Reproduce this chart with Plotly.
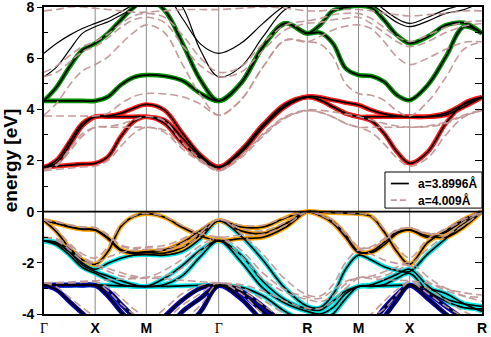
import plotly.graph_objects as go

# k-path: Γ-X-M-Γ-R-M-X-R (units of pi/a), sampled at quarter points of each leg
K_GRID = [0.0, 0.25, 0.5, 0.75, 1.0,
          1.25, 1.5, 1.75, 2.0,
          2.354, 2.707, 3.061, 3.414,
          3.847, 4.280, 4.713, 5.146,
          5.396, 5.646, 5.896, 6.146,
          6.396, 6.646, 6.896, 7.146,
          7.500, 7.853, 8.207, 8.560]
K_TICKS = [0.0, 1.0, 2.0, 3.414, 5.146, 6.146, 7.146, 8.560]
K_LABELS = ["Γ", "X", "M", "Γ", "R", "M", "X", "R"]
Y_TICKS = [8, 6, 4, 2, 0, -2, -4]

# ---- a = 3.8996 Å (solid) ----
# conduction t2g (red)
T2G_1 = [1.73, 1.78, 1.82, 1.86, 1.89, 2.15, 2.93, 3.52, 3.71, 3.45, 2.67, 2.08, 1.73,
         2.30, 3.30, 4.10, 4.48, 4.36, 4.10, 3.84, 3.71, 3.55, 3.06, 2.34, 1.89, 2.34, 3.45, 4.23, 4.47]
T2G_2 = [1.73, 2.02, 2.73, 3.45, 3.71, 3.71, 3.71, 3.71, 3.71, 3.58, 2.87, 2.15, 1.73,
         2.35, 3.35, 4.15, 4.48, 4.36, 4.10, 3.84, 3.71, 3.71, 3.71, 3.71, 3.71, 3.71, 3.78, 4.10, 4.47]
T2G_3 = [1.75, 1.90, 2.60, 3.35, 3.71, 3.74, 3.84, 4.04, 4.19, 3.97, 3.06, 2.21, 1.75,
         2.40, 3.40, 4.20, 4.50, 4.47, 4.36, 4.26, 4.17, 3.97, 3.82, 3.74, 3.71, 3.72, 3.85, 4.20, 4.47]
# conduction eg (green)
EG_1 = [4.33, 4.33, 4.33, 4.33, 4.33, 4.49, 4.95, 5.25, 5.34, 5.30, 5.12, 4.62, 4.33,
        5.02, 6.45, 7.36, 6.97, 7.00, 6.58, 5.60, 5.34, 5.30, 5.08, 4.56, 4.36, 4.95, 6.05, 7.23, 6.97]
EG_2 = [4.33, 4.88, 5.66, 6.32, 6.58, 6.97, 7.49, 7.98, 8.30, 7.88, 6.58, 5.14, 4.33,
        5.02, 6.45, 7.36, 6.97, 7.30, 7.85, 7.98, 8.05, 7.97, 7.49, 6.90, 6.58, 6.84, 7.29, 7.38, 6.97]
# higher conduction (black)
HI_1 = [6.19, 6.58, 6.90, 7.16, 7.36, 7.55, 7.81, 8.10, 8.40, 8.50, 7.55, 6.55, 6.19,
        6.58, 7.36, 8.05, 8.30, 8.40, 8.50, 8.50, 8.50, 8.30, 7.90, 7.55, 7.36, 7.60, 7.90, 8.10, 8.30]
HI_2 = [5.27, 5.66, 6.32, 6.97, 7.23, 7.42, 7.68, 7.95, 8.30, 8.80, 8.00, 6.30, 5.27,
        5.66, 6.84, 7.90, 8.20, 8.30, 8.40, 8.40, 8.30, 8.10, 7.75, 7.40, 7.23, 7.45, 7.75, 7.90, 8.20]
# valence, top group (orange)
VB_1 = [-0.35, -0.45, -0.58, -0.68, -0.71, -1.02, -1.48, -1.60, -1.56, -1.50, -1.20, -0.75, -0.35,
        -0.60, -0.60, -0.25, 0.00, -0.13, -0.39, -0.91, -1.56, -1.60, -1.30, -0.85, -0.71, -1.00, -0.80, -0.35, 0.00]
VB_2 = [-0.35, -0.46, -0.60, -0.69, -0.72, -1.06, -1.52, -1.64, -1.60, -1.62, -1.40, -0.90, -0.35,
        -0.75, -0.85, -0.48, 0.00, -0.15, -0.45, -1.00, -1.60, -1.55, -1.20, -0.80, -0.72, -0.95, -1.00, -0.60, 0.00]
VB_3 = [-0.35, -0.80, -1.42, -1.88, -2.06, -1.56, -0.59, -0.19, -0.08, -0.22, -0.62, -0.95, -1.13,
        -1.05, -1.00, -0.62, 0.00, -0.02, -0.04, -0.06, -0.08, -0.19, -0.78, -1.56, -2.06, -1.20, -0.75, -0.30, 0.00]
# valence, middle group (cyan)
VB_4 = [-1.14, -1.20, -1.50, -2.00, -2.25, -2.02, -1.82, -1.70, -1.68, -1.70, -1.55, -1.05, -0.35,
        -0.95, -1.90, -3.00, -3.70, -3.75, -3.25, -2.25, -1.70, -1.89, -2.15, -2.30, -2.34, -1.65, -1.05, -0.45, 0.00]
VB_5 = [-1.14, -1.24, -1.58, -2.08, -2.34, -2.52, -2.70, -2.85, -2.92, -2.60, -2.10, -1.50, -1.13,
        -1.69, -2.73, -3.45, -3.80, -3.85, -3.50, -3.10, -2.93, -2.86, -2.67, -2.45, -2.25, -2.90, -3.40, -3.60, -3.70]
VB_6 = [-1.14, -1.30, -1.70, -2.18, -2.41, -2.65, -2.85, -2.92, -2.93, -2.85, -2.50, -1.75, -1.13,
        -1.95, -2.99, -3.58, -3.90, -4.00, -3.75, -3.20, -2.92, -2.92, -2.85, -2.60, -2.41, -3.10, -3.50, -3.75, -3.80]
VB_7 = [-2.87, -2.87, -2.87, -2.87, -2.86, -2.88, -2.90, -2.91, -2.92, -2.92, -2.90, -2.88, -2.87,
        -2.95, -3.30, -3.90, -4.30, -4.30, -4.00, -3.40, -2.92, -2.91, -2.90, -2.88, -2.86, -3.00, -3.20, -3.60, -3.90]
# valence, lower group (blue)
VB_8 = [-2.87, -2.87, -2.87, -2.87, -2.88, -3.30, -3.90, -4.40, -4.80, -4.10, -3.45, -2.99, -2.87,
        -3.10, -3.70, -4.40, -4.80, -4.80, -4.80, -4.80, -4.80, -4.40, -3.77, -3.25, -2.88, -3.40, -4.00, -4.50, -4.80]
VB_9 = [-2.87, -2.87, -2.87, -2.87, -2.88, -3.10, -3.60, -4.10, -4.50, -4.60, -3.90, -3.38, -2.87,
        -3.20, -3.90, -4.60, -5.00, -5.00, -5.00, -4.80, -4.50, -4.50, -4.10, -3.45, -2.88, -3.20, -3.70, -4.20, -4.60]
VB_10 = [-2.87, -3.06, -3.52, -3.97, -4.40, -4.60, -4.80, -5.00, -5.00, -5.00, -4.60, -3.90, -2.90,
         -3.40, -4.30, -5.00, -5.20, -5.20, -5.20, -5.00, -5.00, -5.00, -5.00, -4.80, -4.60, -4.80, -5.00, -5.00, -5.20]

# ---- a = 4.009 Å (dashed) ----
D_T2G_1 = [1.60, 1.65, 1.70, 1.75, 1.78, 2.00, 2.55, 3.05, 3.30, 3.10, 2.45, 1.95, 1.60,
           2.10, 2.95, 3.65, 3.95, 3.88, 3.70, 3.45, 3.30, 3.10, 2.65, 2.10, 1.78, 2.10, 3.00, 3.70, 3.95]
D_T2G_2 = [1.60, 1.85, 2.45, 3.05, 3.30, 3.30, 3.30, 3.30, 3.30, 3.18, 2.55, 2.00, 1.60,
           2.15, 3.00, 3.68, 3.95, 3.88, 3.70, 3.45, 3.30, 3.30, 3.30, 3.30, 3.30, 3.32, 3.45, 3.75, 3.95]
D_T2G_3 = [1.65, 1.80, 2.35, 2.95, 3.30, 3.33, 3.42, 3.58, 3.72, 3.55, 2.70, 2.05, 1.65,
           2.20, 3.05, 3.72, 3.98, 3.96, 3.90, 3.82, 3.72, 3.58, 3.45, 3.35, 3.30, 3.35, 3.50, 3.78, 3.98]
D_EG_1 = [3.74, 3.74, 3.74, 3.74, 3.74, 3.85, 4.22, 4.50, 4.62, 4.60, 4.49, 4.20, 3.77,
          4.36, 5.66, 6.70, 6.64, 6.55, 6.05, 5.00, 4.62, 4.55, 4.35, 3.95, 3.74, 4.30, 5.25, 6.35, 6.64]
D_EG_2 = [3.77, 4.25, 4.95, 5.50, 5.75, 6.05, 6.55, 7.00, 7.30, 7.00, 5.75, 4.55, 3.77,
          4.36, 5.66, 6.70, 6.64, 6.85, 7.10, 7.25, 7.30, 7.15, 6.65, 6.05, 5.75, 6.00, 6.35, 6.62, 6.64]
D_HI_1 = [5.45, 5.70, 6.10, 6.45, 6.65, 6.95, 7.35, 7.65, 7.75, 7.60, 6.90, 6.00, 5.45,
          5.66, 6.58, 7.29, 7.46, 7.55, 7.70, 7.75, 7.75, 7.55, 7.20, 6.85, 6.65, 6.90, 7.20, 7.40, 7.46]
D_HI_2 = [5.28, 5.45, 5.85, 6.25, 6.45, 6.80, 7.20, 7.50, 7.60, 7.40, 6.50, 5.70, 5.28,
          5.45, 6.30, 7.10, 7.36, 7.40, 7.50, 7.55, 7.60, 7.35, 7.00, 6.65, 6.45, 6.65, 7.00, 7.25, 7.36]
D_HI_3 = [7.85, 7.90, 8.00, 8.00, 7.95, 7.90, 7.85, 7.80, 7.80, 7.85, 7.90, 7.90, 7.90,
          7.95, 8.00, 7.95, 7.85, 7.85, 7.90, 7.90, 7.90, 7.85, 7.75, 7.70, 7.65, 7.70, 7.75, 7.85, 7.85]
D_VB_1 = [-0.31, -0.40, -0.51, -0.60, -0.62, -0.90, -1.30, -1.41, -1.37, -1.32, -1.06, -0.66, -0.31,
          -0.53, -0.53, -0.22, 0.00, -0.11, -0.34, -0.80, -1.37, -1.41, -1.14, -0.75, -0.62, -0.88, -0.70, -0.31, 0.00]
D_VB_2 = [-0.31, -0.40, -0.53, -0.61, -0.63, -0.93, -1.34, -1.44, -1.41, -1.43, -1.23, -0.79, -0.31,
          -0.66, -0.75, -0.42, 0.00, -0.13, -0.40, -0.88, -1.41, -1.36, -1.06, -0.70, -0.63, -0.84, -0.88, -0.53, 0.00]
D_VB_3 = [-0.31, -0.70, -1.25, -1.65, -1.81, -1.37, -0.52, -0.17, -0.07, -0.19, -0.55, -0.84, -0.99,
          -0.92, -0.88, -0.55, 0.00, -0.02, -0.04, -0.05, -0.07, -0.17, -0.69, -1.37, -1.81, -1.06, -0.66, -0.26, 0.00]
D_VB_4 = [-1.00, -1.06, -1.32, -1.76, -1.98, -1.78, -1.60, -1.50, -1.48, -1.50, -1.36, -0.92, -0.31,
          -0.84, -1.67, -2.64, -3.26, -3.30, -2.86, -1.98, -1.50, -1.66, -1.89, -2.02, -2.06, -1.45, -0.92, -0.40, 0.00]
D_VB_5 = [-1.00, -1.09, -1.39, -1.83, -2.06, -2.22, -2.38, -2.51, -2.57, -2.29, -1.85, -1.32, -0.99,
          -1.49, -2.40, -3.04, -3.34, -3.39, -3.08, -2.73, -2.58, -2.52, -2.35, -2.16, -1.98, -2.55, -2.99, -3.17, -3.26]
D_VB_6 = [-1.00, -1.14, -1.50, -1.92, -2.12, -2.33, -2.51, -2.57, -2.58, -2.51, -2.20, -1.54, -0.99,
          -1.72, -2.63, -3.15, -3.43, -3.52, -3.30, -2.82, -2.57, -2.57, -2.51, -2.29, -2.12, -2.73, -3.08, -3.30, -3.34]
D_VB_7 = [-2.78, -2.77, -2.75, -2.72, -2.70, -2.67, -2.64, -2.62, -2.60, -2.62, -2.68, -2.74, -2.78,
          -2.85, -3.10, -3.50, -3.78, -3.78, -3.52, -3.00, -2.60, -2.62, -2.65, -2.68, -2.70, -2.80, -3.00, -3.30, -3.50]
D_VB_8 = [-2.78, -2.78, -2.78, -2.76, -2.74, -3.10, -3.60, -4.00, -4.30, -3.80, -3.20, -2.88, -2.78,
          -2.95, -3.45, -4.00, -4.30, -4.30, -4.30, -4.30, -4.30, -4.00, -3.50, -3.05, -2.74, -3.20, -3.70, -4.10, -4.30]
D_VB_9 = [-2.78, -2.78, -2.78, -2.76, -2.74, -2.95, -3.35, -3.80, -4.10, -4.20, -3.65, -3.20, -2.78,
          -3.05, -3.65, -4.20, -4.50, -4.50, -4.50, -4.30, -4.10, -4.10, -3.80, -3.25, -2.74, -3.00, -3.45, -3.90, -4.20]
D_VB_10 = [-2.78, -2.95, -3.35, -3.75, -4.10, -4.30, -4.50, -4.60, -4.60, -4.60, -4.25, -3.65, -2.80,
           -3.20, -4.00, -4.60, -4.80, -4.80, -4.80, -4.60, -4.60, -4.60, -4.60, -4.40, -4.20, -4.40, -4.60, -4.60, -4.80]

RED = "#ff1a1a"
GREEN = "#009000"
ORANGE = "#ffa500"
CYAN = "#00e6e6"
BLUE = "#0000b4"
DASH_COLOR = "rgba(192,150,150,0.95)"
FONT = "Liberation Sans, Arial, sans-serif"

solid_bands = [
    (T2G_1, RED), (T2G_2, RED), (T2G_3, RED),
    (EG_1, GREEN), (EG_2, GREEN),
    (HI_1, None), (HI_2, None),
    (VB_7, CYAN), (VB_4, CYAN), (VB_5, CYAN), (VB_6, CYAN),
    (VB_8, BLUE), (VB_9, BLUE), (VB_10, BLUE),
    (VB_1, ORANGE), (VB_2, ORANGE), (VB_3, ORANGE),
]
dashed_bands = [D_T2G_1, D_T2G_2, D_T2G_3, D_EG_1, D_EG_2, D_HI_1, D_HI_2, D_HI_3,
                D_VB_1, D_VB_2, D_VB_3, D_VB_4, D_VB_5, D_VB_6, D_VB_7, D_VB_8, D_VB_9, D_VB_10]

fig = go.Figure()

# coloured halo under the solid bands
for band, color in solid_bands:
    if color is None:
        continue
    fig.add_trace(go.Scatter(x=K_GRID, y=band, mode="lines", hoverinfo="skip", showlegend=False,
                             line=dict(color=color, width=4.6, shape="spline")))

# black core
for band, color in solid_bands:
    fig.add_trace(go.Scatter(x=K_GRID, y=band, mode="lines", hoverinfo="skip", showlegend=False,
                             line=dict(color="black", width=1.7 if color else 1.2, shape="spline")))

for band in dashed_bands:
    fig.add_trace(go.Scatter(x=K_GRID, y=band, mode="lines", hoverinfo="skip", showlegend=False,
                             line=dict(color=DASH_COLOR, width=1.6, dash="8px,4px", shape="spline")))

# dummy trace so the right-hand axis gets drawn
fig.add_trace(go.Scatter(x=[None], y=[None], yaxis="y2", showlegend=False, hoverinfo="skip"))

shapes = []
for k in K_TICKS[1:-1]:
    shapes.append(dict(type="line", xref="x", yref="paper", x0=k, x1=k, y0=0, y1=1,
                       line=dict(color="#8a8a8a", width=1), layer="below"))
shapes.append(dict(type="line", xref="paper", yref="y", x0=0, x1=1, y0=0, y1=0,
                   line=dict(color="black", width=1.6), layer="above"))

# legend box drawn by hand
shapes.append(dict(type="rect", xref="paper", yref="paper", x0=0.7785, x1=1.0, y0=0.345, y1=0.4625,
                   line=dict(color="black", width=1), fillcolor="white", layer="above"))
shapes.append(dict(type="line", xref="paper", yref="paper", x0=0.792, x1=0.833, y0=0.425, y1=0.425,
                   line=dict(color="black", width=1.7), layer="above"))
shapes.append(dict(type="line", xref="paper", yref="paper", x0=0.792, x1=0.833, y0=0.371, y1=0.371,
                   line=dict(color=DASH_COLOR, width=1.6, dash="6px,3px"), layer="above"))

annotations = [
    dict(xref="paper", yref="paper", x=0.849, y=0.425, text="a=3.8996Å", showarrow=False,
         xanchor="left", yanchor="middle", font=dict(family=FONT, size=12, color="black", weight="bold")),
    dict(xref="paper", yref="paper", x=0.849, y=0.371, text="a=4.009Å", showarrow=False,
         xanchor="left", yanchor="middle", font=dict(family=FONT, size=12, color="black", weight="bold")),
]

tick_text = [
    "<span style='font-family:Liberation Serif;font-weight:normal'>Γ</span>" if t == "Γ" else t
    for t in K_LABELS
]

fig.update_layout(
    width=491,
    height=337,
    margin=dict(l=44, r=9, t=7, b=23),
    paper_bgcolor="white",
    plot_bgcolor="white",
    showlegend=False,
    hovermode=False,
    font=dict(family=FONT, color="black"),
    shapes=shapes,
    annotations=annotations,
    xaxis=dict(
        range=[0, 8.56],
        automargin=False,
        tickmode="array",
        tickvals=K_TICKS,
        ticktext=tick_text,
        ticks="",
        ticklabeloverflow="allow",
        showgrid=False,
        zeroline=False,
        showline=True,
        mirror=True,
        linecolor="black",
        linewidth=1.6,
        tickfont=dict(family=FONT, size=14, color="black", weight="bold"),
    ),
    yaxis=dict(
        range=[-4, 8],
        automargin=False,
        tickmode="array",
        tickvals=Y_TICKS,
        ticktext=[str(v) for v in Y_TICKS],
        ticks="outside",
        ticklen=5,
        tickwidth=1,
        tickcolor="black",
        ticklabeloverflow="allow",
        minor=dict(ticks="inside", ticklen=4, tickmode="array", tickvals=[7, 5, 3, 1, -1, -3],
                   tickcolor="black", showgrid=False),
        showgrid=False,
        zeroline=False,
        showline=True,
        mirror=True,
        linecolor="black",
        linewidth=1.6,
        tickfont=dict(family=FONT, size=14, color="black", weight="bold"),
        title=dict(text="energy [eV]", standoff=4,
                   font=dict(family=FONT, size=19, color="black", weight="bold")),
    ),
    yaxis2=dict(
        range=[-4, 8],
        automargin=False,
        overlaying="y",
        side="right",
        tickmode="linear",
        tick0=0,
        dtick=1,
        ticks="inside",
        ticklen=7,
        tickcolor="black",
        showticklabels=False,
        showgrid=False,
        zeroline=False,
        showline=False,
    ),
)

# the page body has a default 8px margin; drop it so the figure sits at the window origin
fig.write_html("out.html", config={"displayModeBar": False},
               post_script="document.body.style.margin='0px';")
